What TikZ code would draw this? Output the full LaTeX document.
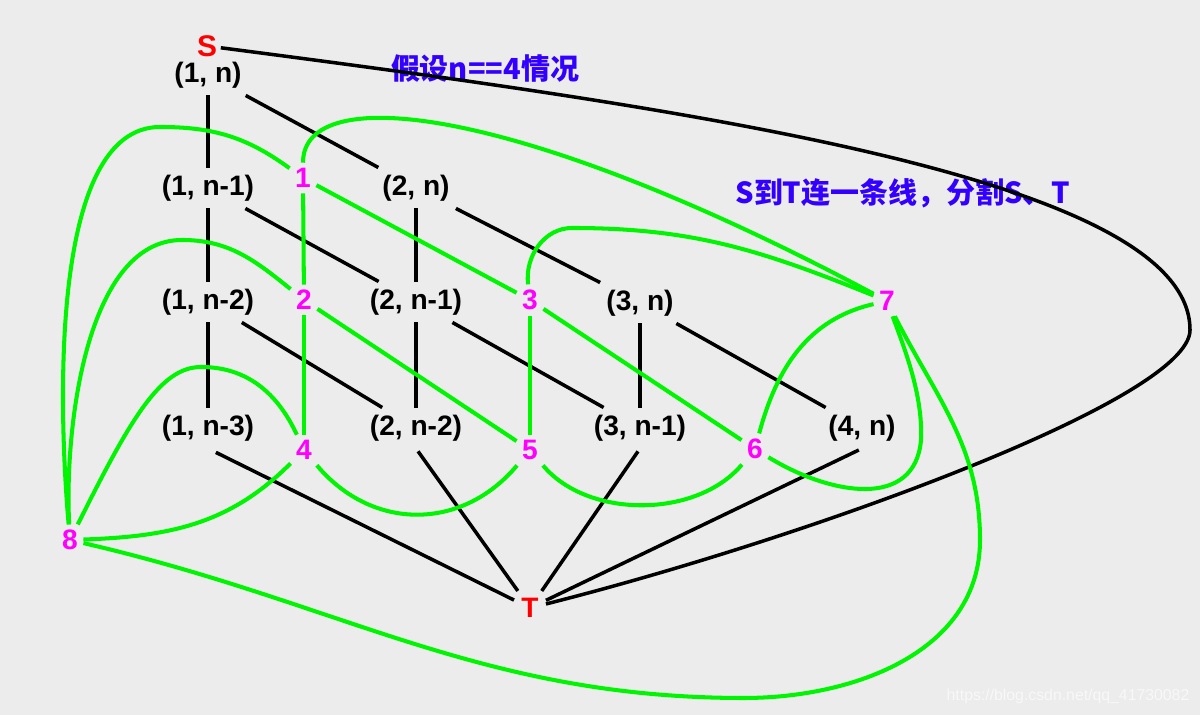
\documentclass[tikz,border=0pt]{standalone}
\usepackage{fontspec}
\setmainfont{Liberation Sans}
\newfontfamily\cjkfont{Noto Sans CJK SC}
\usepackage{tikz}
\usetikzlibrary{positioning}
\definecolor{PaperGray}{RGB}{236,236,236}
\definecolor{CutGreen}{RGB}{0,245,0}
\definecolor{CutPink}{RGB}{255,0,255}
\definecolor{TermRed}{RGB}{255,0,0}
\definecolor{NoteBlue}{RGB}{51,0,255}
\definecolor{MarkWhite}{RGB}{248,248,248}

\begin{document}
\begin{tikzpicture}[
  x=0.02cm, y=0.02cm,
  cell/.style={font=\bfseries\fontsize{16}{18}\selectfont, inner sep=4pt},
  term/.style={cell, text=TermRed},
  cut/.style={cell, text=CutPink, inner sep=3pt},
  note/.style={font=\cjkfont\bfseries\fontsize{16.5}{19}\selectfont, text=NoteBlue},
  edge/.style={line width=2pt, draw=black},
  cutline/.style={line width=2.3pt, draw=CutGreen}
]
\fill[PaperGray] (0,0) rectangle (1200,715);

% grid nodes
\node[term, font=\bfseries\fontsize{17}{19}\selectfont, inner sep=2pt] (s) at (207,669) {S};
\node[cell] (n1n) at (208,640) {(1, n)};
\node[cell] (n1n1) at (208,527) {(1, n-1)};
\node[cell] (n2n) at (416,527) {(2, n)};
\node[cell] (n1n2) at (208,413) {(1, n-2)};
\node[cell] (n2n1) at (416,413) {(2, n-1)};
\node[cell] (n3n) at (640,412) {(3, n)};
\node[cell] (n1n3) at (208,287) {(1, n-3)};
\node[cell] (n2n2) at (416,287) {(2, n-2)};
\node[cell] (n3n1) at (640,287) {(3, n-1)};
\node[cell] (n4n) at (862,287) {(4, n)};
\node[term] (t) at (530,107) {T};

% faces
\node[cut] (c1) at (303,537) {1};
\node[cut] (c2) at (304,415) {2};
\node[cut] (c3) at (530,415) {3};
\node[cut] (c4) at (304,265) {4};
\node[cut] (c5) at (530,265) {5};
\node[cut] (c6) at (755,266) {6};
\node[cut] (c7) at (887,414) {7};
\node[cut] (c8) at (70,175) {8};

\node[note] (note) at (485,646) {假设n==4情况};
\node[note] (hint) at (903,522) {S到T连一条线，分割S、T};
\node[font=\fontsize{9}{10}\selectfont, text=MarkWhite] (mark) at (1068,19) {https://blog.csdn.net/qq\_41730082};

\draw[edge] (n1n) -- (n1n1);
\draw[edge] (n1n) -- (n2n);
\draw[edge] (n1n1) -- (n1n2);
\draw[edge] (n1n1) -- (n2n1);
\draw[edge] (n2n) -- (n2n1);
\draw[edge] (n2n) -- (n3n);
\draw[edge] (n1n2) -- (n1n3);
\draw[edge] (n1n2) -- (n2n2);
\draw[edge] (n2n1) -- (n2n2);
\draw[edge] (n2n1) -- (n3n1);
\draw[edge] (n3n) -- (n3n1);
\draw[edge] (n3n) -- (n4n);
\draw[edge, shorten <=5pt] (n1n3.south) -- (t);
\draw[edge, shorten <=2pt] (n2n2.south) -- (t);
\draw[edge, shorten <=2pt] (n3n1.south) -- (t);
\draw[edge, shorten <=2pt] (n4n.south) -- (t);
\draw[edge] (s) .. controls (700,605) and (1190,535) .. (1190,385)
  .. controls (1190,315) and (800,175) .. (t);

% cut
\draw[cutline] (c1) -- (c2);
\draw[cutline] (c1) -- (c3);
\draw[cutline] (c2) -- (c4);
\draw[cutline] (c2) -- (c5);
\draw[cutline] (c3) -- (c5);
\draw[cutline] (c3) -- (c6);
\draw[cutline] (c1) .. controls (303,635) and (520,610) .. (c7);
\draw[cutline] (c1) to[out=144,in=0] (160,588) to[out=180,in=95,looseness=0.7] (c8);
\draw[cutline] (c2) to[out=141,in=0] (182,475) to[out=180,in=93,looseness=0.8] (c8);
\draw[cutline] (c3) to[out=97,in=180] (572,487) to[out=0,in=158] (c7);
\draw[cutline] (c4) to[out=-135,in=2] (c8);
\draw[cutline] (c4) to[out=115,in=0] (201,348) .. controls (160,348) and (130,295) .. (c8);
\draw[cutline] (c4) to[out=-50,in=-130,looseness=1.1] (c5);
\draw[cutline] (c5) to[out=-50,in=-130,looseness=0.9] (c6);
\draw[cutline] (c6) to[out=75,in=193] (c7);
\draw[cutline] (c6) .. controls (830,220) and (915,205) .. (921,275)
  .. controls (923,320) and (905,365) .. (c7);
\draw[cutline] (c7) to[out=-63,in=90] (980,175) to[out=-90,in=0] (744,17)
  to[out=180,in=-13] (c8);
\end{tikzpicture}
\end{document}
